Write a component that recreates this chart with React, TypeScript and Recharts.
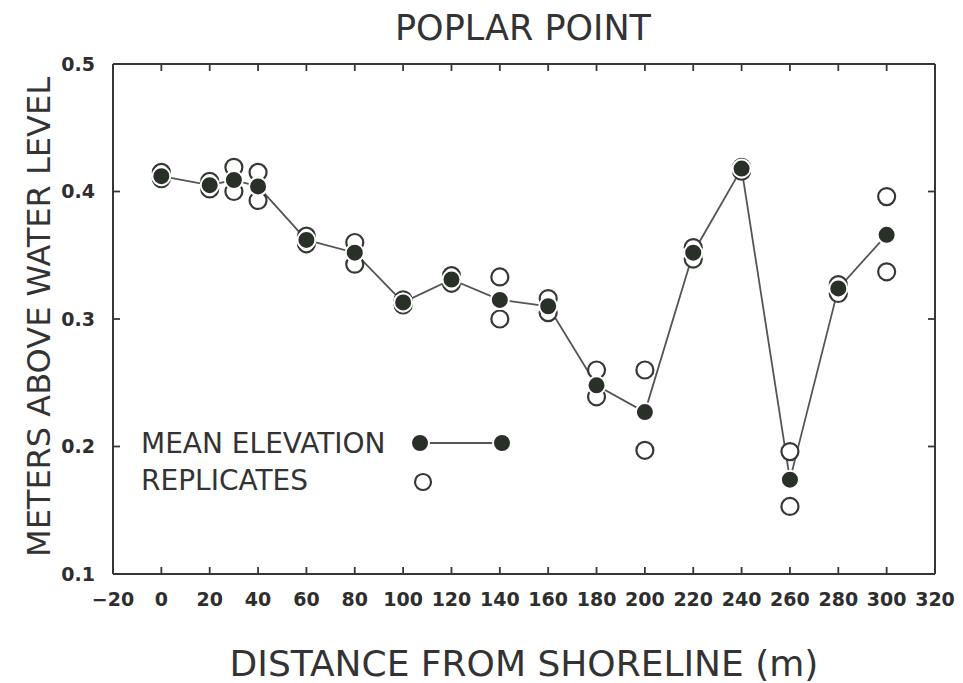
import React from 'react';
import { ComposedChart, Line, Scatter, XAxis, YAxis } from 'recharts';

// distance from shoreline (m)
const distances = [0, 20, 30, 40, 60, 80, 100, 120, 140, 160, 180, 200, 220, 240, 260, 280, 300];
// mean elevation (m above water level)
const meanElevation = [0.412, 0.405, 0.409, 0.404, 0.362, 0.352, 0.313, 0.331, 0.315, 0.310, 0.248, 0.227, 0.352, 0.418, 0.174, 0.324, 0.366];
// the two replicates at each station
const replicateA = [0.415, 0.408, 0.419, 0.415, 0.365, 0.360, 0.315, 0.334, 0.333, 0.316, 0.260, 0.260, 0.356, 0.419, 0.196, 0.327, 0.396];
const replicateB = [0.410, 0.402, 0.400, 0.393, 0.359, 0.343, 0.311, 0.328, 0.300, 0.305, 0.239, 0.197, 0.347, 0.416, 0.153, 0.320, 0.337];

const xTicks = [-20, 0, 20, 40, 60, 80, 100, 120, 140, 160, 180, 200, 220, 240, 260, 280, 300, 320];
const yTicks = [0.1, 0.2, 0.3, 0.4, 0.5];

const rows = distances.map((d, i) => ({
  d,
  mean: meanElevation[i],
  r1: replicateA[i],
  r2: replicateB[i],
}));

const INK = '#353835';
const DOT = '#283028';
const FONT = '"DejaVu Sans", sans-serif';
const TICK_LEN = 7;
const X_GAP = 19;
const Y_GAP = 18;

const OpenDot = (props: any) => (
  <circle cx={props.cx} cy={props.cy} r={8.5} fill="#fff" stroke={INK} strokeWidth={2.2} />
);

const FilledDot = (props: any) => (
  <circle cx={props.cx} cy={props.cy} r={9} fill={DOT} stroke="#fff" strokeWidth={2} />
);

const fmtX = (v: number) => (v < 0 ? `\u2212${-v}` : `${v}`);

// inward ticks, drawn with the labels
const BottomTick = ({ x, y, payload }: any) => (
  <g>
    <line x1={x} y1={y - X_GAP} x2={x} y2={y - X_GAP - TICK_LEN} stroke={INK} strokeWidth={1.8} />
    <text x={x} y={y} dy="0.71em" textAnchor="middle" fontSize={19} fontWeight={700} fontFamily={FONT} fill="#2e2e2e">
      {fmtX(payload.value)}
    </text>
  </g>
);

const LeftTick = ({ x, y, payload }: any) => (
  <g>
    <line x1={x + Y_GAP} y1={y} x2={x + Y_GAP + TICK_LEN} y2={y} stroke={INK} strokeWidth={1.8} />
    <text x={x} y={y} dy="0.36em" textAnchor="end" fontSize={19} fontWeight={700} fontFamily={FONT} fill="#2e2e2e">
      {payload.value.toFixed(1)}
    </text>
  </g>
);

const TopTick = ({ x, y }: any) => (
  <line x1={x} y1={y} x2={x} y2={y + TICK_LEN} stroke={INK} strokeWidth={1.8} />
);

const RightTick = ({ x, y }: any) => (
  <line x1={x} y1={y} x2={x - TICK_LEN} y2={y} stroke={INK} strokeWidth={1.8} />
);

export default function App() {
  return (
    <div style={{ position: 'absolute', left: 0, top: 0, width: 963, height: 683, background: '#fff' }}>
      <ComposedChart
        width={963}
        height={683}
        data={rows}
        margin={{ top: 63, right: 27, bottom: 69, left: 53 }}
      >
        <XAxis
          dataKey="d"
          type="number"
          domain={[-20, 320]}
          ticks={xTicks}
          interval={0}
          allowDataOverflow
          height={40}
          stroke={INK}
          strokeWidth={2}
          tickLine={false}
          tickSize={0}
          tickMargin={X_GAP}
          tick={<BottomTick />}
          label={{
            content: ({ viewBox }: any) => (
              <text
                x={viewBox.x + viewBox.width / 2}
                y={viewBox.y + 102}
                textAnchor="middle"
                fontSize={36}
                fontFamily={FONT}
                fill="#333"
              >
                DISTANCE FROM SHORELINE (m)
              </text>
            ),
          }}
        />
        <XAxis
          xAxisId="top"
          orientation="top"
          dataKey="d"
          type="number"
          domain={[-20, 320]}
          ticks={xTicks}
          interval={0}
          allowDataOverflow
          height={1}
          stroke={INK}
          strokeWidth={2}
          tickLine={false}
          tickSize={0}
          tickMargin={0}
          tick={<TopTick />}
        />
        <YAxis
          type="number"
          domain={[0.1, 0.5]}
          ticks={yTicks}
          interval={0}
          allowDataOverflow
          width={60}
          stroke={INK}
          strokeWidth={2}
          tickLine={false}
          tickSize={0}
          tickMargin={Y_GAP}
          tick={<LeftTick />}
          label={{
            content: () => (
              <text
                x={50}
                y={317}
                transform="rotate(-90, 50, 317)"
                textAnchor="middle"
                fontSize={32}
                fontFamily={FONT}
                fill="#333"
              >
                METERS ABOVE WATER LEVEL
              </text>
            ),
          }}
        />
        <YAxis
          yAxisId="right"
          orientation="right"
          type="number"
          domain={[0.1, 0.5]}
          ticks={yTicks}
          interval={0}
          allowDataOverflow
          width={1}
          stroke={INK}
          strokeWidth={2}
          tickLine={false}
          tickSize={0}
          tickMargin={0}
          tick={<RightTick />}
        />
        <Line
          dataKey="mean"
          stroke="#555"
          strokeWidth={1.8}
          dot={false}
          activeDot={false}
          isAnimationActive={false}
        />
        <Scatter data={rows} dataKey="r1" shape={OpenDot} isAnimationActive={false} />
        <Scatter data={rows} dataKey="r2" shape={OpenDot} isAnimationActive={false} />
        <Scatter data={rows} dataKey="mean" shape={FilledDot} isAnimationActive={false} />
      </ComposedChart>

      <svg
        width={963}
        height={683}
        style={{ position: 'absolute', left: 0, top: 0, pointerEvents: 'none' }}
      >
        <text x={523} y={40} textAnchor="middle" fontSize={35} fontFamily={FONT} fill="#333">
          POPLAR POINT
        </text>
        <text x={141} y={453} fontSize={28} fontFamily={FONT} fill="#333">
          MEAN ELEVATION
        </text>
        <line x1={428} y1={443} x2={495} y2={443} stroke="#555" strokeWidth={1.8} />
        <circle cx={420} cy={443} r={9} fill={DOT} stroke="#fff" strokeWidth={2} />
        <circle cx={502} cy={443} r={9} fill={DOT} stroke="#fff" strokeWidth={2} />
        <text x={141} y={490} fontSize={28} fontFamily={FONT} fill="#333">
          REPLICATES
        </text>
        <circle cx={423} cy={482} r={8} fill="#fff" stroke={INK} strokeWidth={2.2} />
      </svg>
    </div>
  );
}
